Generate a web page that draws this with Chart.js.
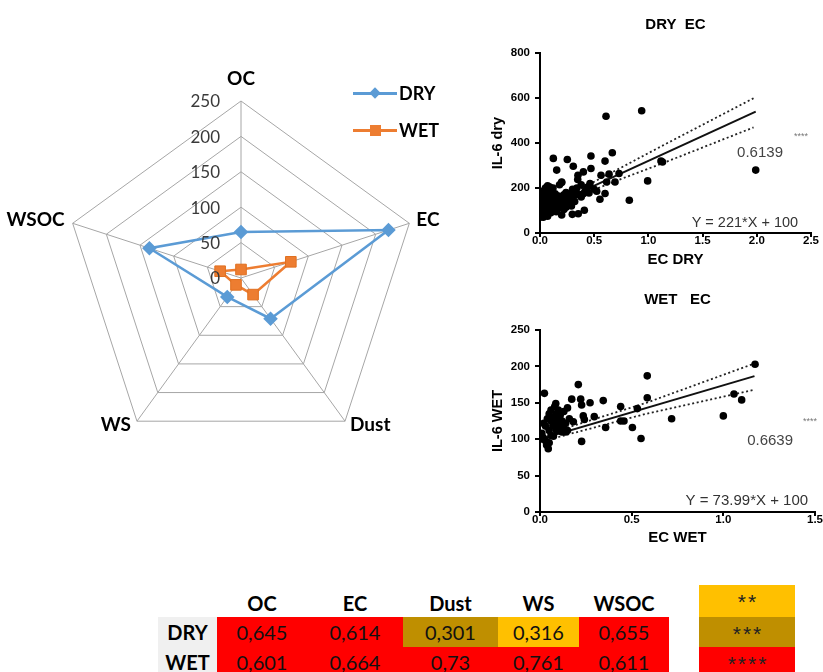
<!DOCTYPE html>
<html>
<head>
<meta charset="utf-8">
<script src="https://cdn.jsdelivr.net/npm/chart.js@4.4.1/dist/chart.umd.min.js"></script>
<style>
html,body{margin:0;padding:0;background:#fff;}
#page{position:relative;width:823px;height:672px;overflow:hidden;background:#fff;}
.abs{position:absolute;}
canvas{display:block;}
.cell{position:absolute;display:flex;align-items:center;justify-content:center;font-family:Lato,'Noto Sans',sans-serif;color:#111;box-sizing:border-box;}
.hdr{font-weight:bold;font-size:20px;color:#000;}
.val{font-size:20px;}
.lbl{font-weight:bold;font-size:20px;background:#f0f0f0;color:#000;}
.star{font-family:'Liberation Sans',Arial,sans-serif;font-size:21px;letter-spacing:2px;align-items:flex-start;padding-top:5px;padding-left:2px;color:#222;}
.legtxt{position:absolute;font:bold 18px Lato,sans-serif;line-height:22px;color:#000;}
</style>
</head>
<body>
<div id="page">
  <div class="abs" style="left:0;top:40px;"><canvas id="radar" width="480" height="440"></canvas></div>
  <div class="abs" style="left:470px;top:0;"><canvas id="dry" width="361" height="280"></canvas></div>
  <div class="abs" style="left:470px;top:280px;"><canvas id="wet" width="365" height="280"></canvas></div>

  <!-- radar legend -->
  <div class="abs" style="left:353px;top:91.5px;width:44px;height:3px;background:#5b9bd5"></div>
  <div class="abs" style="left:371px;top:89px;width:8px;height:8px;background:#5b9bd5;transform:rotate(45deg)"></div>
  <div class="legtxt" style="left:399px;top:82px">DRY</div>
  <div class="abs" style="left:353px;top:128.5px;width:44px;height:3px;background:#ed7d31"></div>
  <div class="abs" style="left:369.5px;top:124.5px;width:11px;height:11px;background:#ed7d31"></div>
  <div class="legtxt" style="left:399px;top:119px">WET</div>

  <div id="table"></div>
</div>

<script>
// ---------------- DATA ----------------
const radarAxes = ['OC', 'EC', 'Dust', 'WS', 'WSOC'];
const radarDry = [65, 219, 71, 33, 136];
const radarWet = [12, 74, 29, 12, 31];
const radarTicks = [0, 50, 100, 150, 200, 250];

const dryPoints = [
  [0.01,95],[0.01,120],[0.02,150],[0.02,175],[0.02,105],[0.03,70],[0.03,135],[0.03,160],[0.04,190],[0.04,110],
  [0.04,85],[0.05,145],[0.05,200],[0.05,125],[0.06,95],[0.06,170],[0.06,155],[0.07,115],[0.07,210],[0.07,75],
  [0.08,140],[0.08,180],[0.08,100],[0.09,165],[0.09,125],[0.09,205],[0.10,150],[0.10,110],[0.10,90],[0.11,185],
  [0.11,135],[0.12,120],[0.12,160],[0.12,200],[0.13,145],[0.13,100],[0.14,175],[0.14,130],[0.15,115],[0.15,95],
  [0.16,150],[0.16,125],[0.17,165],[0.17,110],[0.18,140],[0.18,215],[0.19,120],[0.20,155],[0.20,225],[0.20,80],
  [0.21,130],[0.22,170],[0.22,105],[0.23,145],[0.24,115],[0.24,180],[0.25,160],[0.26,130],[0.27,175],[0.28,150],
  [0.29,120],[0.30,195],[0.31,165],[0.32,140],[0.33,185],[0.34,200],[0.36,170],[0.38,160],[0.40,175],[0.42,190],
  [0.38,215],[0.44,205],[0.50,195],
  [0.123,332],[0.252,327],[0.47,343],[0.667,357],[0.154,280],[0.307,297],[0.60,320],[0.40,272],[0.35,257],[0.348,238],
  [0.47,287],[0.563,257],[0.637,262],[0.729,265],[0.692,227],[0.615,227],[0.461,220],[0.2,227],[0.523,186],[0.6,176],
  [0.452,178],[0.553,150],[0.824,146],[0.993,232],[1.116,320],[1.13,316],[0.609,520],[0.938,544],[1.99,280],
  [0.298,83],[0.353,86],[0.409,101],[0.015,71]
];
const dryFit = [[0, 100], [1.99, 540]];
const dryUpper = [[0.3,178],[0.74,289],[1.15,394],[1.97,600]];
const dryLower = [[0.3,154],[0.74,239],[1.15,314],[1.97,470]];
const dryXTicks = [0, 0.5, 1.0, 1.5, 2.0, 2.5];
const dryYTicks = [0, 200, 400, 600, 800];

const wetPoints = [
  [0.024,163],[0.209,175],[0.585,187],[0.585,157],[1.173,203],[0.086,149],[0.173,155],[0.222,155],[0.273,150],[0.345,153],
  [0.227,147],[0.44,145],[0.531,142],[0.236,132],[0.242,127],[0.296,131],[0.182,124],[0.358,116],[0.44,125],[0.458,125],
  [0.504,116],[0.551,101],[0.227,97],[0.718,128],[1.0,132],[1.058,162],[1.1,154],[0.018,102],[0.0,100],[0.045,87],
  [0.036,92],[0.073,104],[0.12,110],
  [0.02,122],[0.03,118],[0.04,128],[0.05,135],[0.05,112],[0.06,140],[0.06,125],[0.07,130],[0.07,118],[0.08,145],
  [0.08,123],[0.09,135],[0.09,112],[0.10,140],[0.10,128],[0.11,120],[0.11,133],[0.12,125],[0.13,138],[0.13,115],
  [0.14,122],[0.15,143],[0.15,112],[0.16,128],[0.01,108],[0.03,98],[0.05,95],[0.06,105],[0.10,115],[0.14,110]
];
const wetFit = [[0, 100], [1.17, 186.6]];
const wetUpper = [[0.1,112],[0.58,150],[1.17,204]];
const wetLower = [[0.1,103],[0.58,135],[1.17,168]];
const wetXTicks = [0, 0.5, 1.0, 1.5];
const wetYTicks = [0, 50, 100, 150, 200, 250];

const tableCols = ['OC', 'EC', 'Dust', 'WS', 'WSOC'];
const tableRows = ['DRY', 'WET'];
const dryR = ['0,645', '0,614', '0,301', '0,316', '0,655'];
const wetR = ['0,601', '0,664', '0,73', '0,761', '0,611'];
const drySig = ['****', '****', '***', '**', '****'];
const wetSig = ['****', '****', '****', '****', '****'];
const sigLevels = ['**', '***', '****'];

// ---------------- STYLE ----------------
const sigColor = {'**': '#ffc000', '***': '#bf8f00', '****': '#ff0000'};
Chart.defaults.font.family = "'Liberation Sans', Arial, sans-serif";
Chart.defaults.color = '#000';

// ---------------- RADAR ----------------
const radarLabels = {
  id: 'radarLabels',
  afterDraw(chart) {
    const r = chart.scales.r, ctx = chart.ctx;
    ctx.save();
    ctx.font = '17px Lato';
    ctx.fillStyle = '#3a3a3a';
    ctx.textAlign = 'right';
    ctx.textBaseline = 'middle';
    r.ticks.forEach(t => {
      const p = r.getPointPositionForValue(0, t.value);
      ctx.fillText(String(t.value), p.x - 21, p.y + 1);
    });
    ctx.font = 'bold 19px Lato';
    ctx.fillStyle = '#000';
    chart.data.labels.forEach((lab, i) => {
      const p = r.getPointPosition(i, r.drawingArea);
      const dx = p.x - r.xCenter, dy = p.y - r.yCenter;
      let x = p.x, y = p.y;
      if (Math.abs(dx) < 1) { ctx.textAlign = 'center'; y -= 22; }
      else if (dx > 0) { ctx.textAlign = 'left'; x += dy < 0 ? 7 : 5; y += dy < 0 ? -3 : 4; }
      else { ctx.textAlign = 'right'; x -= dy < 0 ? 8 : 6; y += dy < 0 ? -3 : 4; }
      ctx.fillText(lab, x, y);
    });
    ctx.restore();
  }
};

new Chart(document.getElementById('radar'), {
  type: 'radar',
  data: {
    labels: radarAxes,
    datasets: [
      {label: 'DRY', data: radarDry, borderColor: '#5b9bd5', backgroundColor: '#5b9bd5', borderWidth: 2.5,
       pointStyle: 'rectRot', pointRadius: 5.5, pointBackgroundColor: '#5b9bd5', pointBorderColor: '#5b9bd5', fill: false},
      {label: 'WET', data: radarWet, borderColor: '#ed7d31', backgroundColor: '#ed7d31', borderWidth: 2.5,
       pointStyle: 'rect', pointRadius: 7.5, pointBackgroundColor: '#ed7d31', pointBorderColor: '#e07020', pointBorderWidth: 1, fill: false}
    ]
  },
  options: {
    responsive: false, animation: false,
    layout: {padding: {left: 64, top: 61, right: 62, bottom: 25}},
    plugins: {legend: {display: false}, tooltip: {enabled: false}},
    scales: {
      r: {
        min: radarTicks[0], max: radarTicks[radarTicks.length - 1],
        ticks: {stepSize: radarTicks[1] - radarTicks[0], display: false},
        grid: {color: '#a6a6a6', lineWidth: 1},
        angleLines: {color: '#a6a6a6', lineWidth: 1},
        pointLabels: {display: false}
      }
    }
  },
  plugins: [radarLabels]
});

// ---------------- SCATTERS ----------------
const annot = {
  id: 'annot',
  afterDatasetsDraw(chart, args, opts) {
    const ctx = chart.ctx, xs = chart.scales.x, ys = chart.scales.y;
    (opts.items || []).forEach(it => {
      ctx.save();
      ctx.font = it.font; ctx.fillStyle = it.color;
      ctx.textAlign = 'center'; ctx.textBaseline = 'middle';
      ctx.fillText(it.text, xs.getPixelForValue(it.x), ys.getPixelForValue(it.y));
      ctx.restore();
    });
  }
};

const toXY = arr => arr.map(p => ({x: p[0], y: p[1]}));

function makeScatter(id, c) {
  new Chart(document.getElementById(id), {
    type: 'scatter',
    data: {datasets: [
      {data: toXY(c.points), pointRadius: 3.8, pointBackgroundColor: '#000', pointBorderWidth: 0, showLine: false},
      {data: toXY(c.fit), showLine: true, borderColor: '#111', borderWidth: 2, pointRadius: 0},
      {data: toXY(c.upper), showLine: true, borderColor: '#222', borderWidth: 1.8, borderDash: [2, 2.6], pointRadius: 0},
      {data: toXY(c.lower), showLine: true, borderColor: '#222', borderWidth: 1.8, borderDash: [2, 2.6], pointRadius: 0}
    ]},
    options: {
      responsive: false, animation: false,
      layout: {padding: {left: 0, right: 20, top: 0, bottom: 0}},
      plugins: {
        legend: {display: false}, tooltip: {enabled: false},
        title: {display: true, text: c.title, fullSize: false, color: '#000',
                font: {size: 15, weight: 'bold'}, padding: {top: c.titleTop, bottom: c.titleBottom}},
        annot: {items: c.annots}
      },
      scales: {
        x: {
          type: 'linear', min: c.xTicks[0], max: c.xTicks[c.xTicks.length - 1],
          ticks: {stepSize: c.xTicks[1] - c.xTicks[0], callback: v => Number(v).toFixed(1),
                  font: {size: 11.5, weight: 'bold'}, color: '#000', padding: -3, maxRotation: 0, autoSkip: false},
          grid: {drawOnChartArea: false, drawTicks: true, tickLength: 4, color: '#000', lineWidth: 2},
          border: {color: '#000', width: 2},
          title: {display: true, text: c.xTitle, color: '#000', font: {size: 15, weight: 'bold'},
                  padding: {top: 0, bottom: c.xTitlePad}},
          afterFit(s) { s.height = c.xAxisH; }
        },
        y: {
          type: 'linear', min: c.yTicks[0], max: c.yTicks[c.yTicks.length - 1],
          ticks: {stepSize: c.yTicks[1] - c.yTicks[0], font: {size: 11.5, weight: 'bold'}, color: '#000', padding: 5},
          grid: {drawOnChartArea: false, drawTicks: true, tickLength: 5, color: '#000', lineWidth: 2},
          border: {color: '#000', width: 2},
          title: {display: true, text: c.yTitle, color: '#000', font: {size: 14.5, weight: 'bold'},
                  padding: {top: 19.5, bottom: 0}},
          afterFit(s) { s.width = 70; }
        }
      }
    },
    plugins: [annot]
  });
}

makeScatter('dry', {
  points: dryPoints, fit: dryFit, upper: dryUpper, lower: dryLower,
  xTicks: dryXTicks, yTicks: dryYTicks,
  title: 'DRY  EC', titleTop: 16, titleBottom: 19.3,
  xTitle: 'EC DRY', xTitlePad: 11, xAxisH: 47, yTitle: 'IL-6 dry',
  annots: [
    {text: '****', x: 2.408, y: 431, font: '9px "Liberation Sans"', color: '#777'},
    {text: '0.6139', x: 2.03, y: 355, font: '15px "Liberation Sans"', color: '#444'},
    {text: 'Y = 221*X + 100', x: 1.89, y: 45, font: '14.5px "Liberation Sans"', color: '#333'}
  ]
});

makeScatter('wet', {
  points: wetPoints, fit: wetFit, upper: wetUpper, lower: wetLower,
  xTicks: wetXTicks, yTicks: wetYTicks,
  title: 'WET   EC', titleTop: 11, titleBottom: 21,
  xTitle: 'EC WET', xTitlePad: 12.7, xAxisH: 48, yTitle: 'IL-6 WET',
  annots: [
    {text: '****', x: 1.473, y: 124, font: '9px "Liberation Sans"', color: '#777'},
    {text: '0.6639', x: 1.255, y: 97.7, font: '15px "Liberation Sans"', color: '#444'},
    {text: 'Y = 73.99*X + 100', x: 1.128, y: 15, font: '15px "Liberation Sans"', color: '#333'}
  ]
});

// ---------------- TABLE ----------------
(function buildTable() {
  const page = document.getElementById('table');
  const colEdges = [158, 217, 307, 403, 498, 579, 669];
  const rowEdges = [588, 617, 647, 677];
  const add = (cls, txt, l, t, w, h, bg) => {
    const d = document.createElement('div');
    d.className = 'cell ' + cls;
    d.textContent = txt;
    d.style.left = l + 'px'; d.style.top = t + 'px';
    d.style.width = w + 'px'; d.style.height = h + 'px';
    if (bg) d.style.background = bg;
    page.appendChild(d);
  };
  tableCols.forEach((c, i) => add('hdr', c, colEdges[i + 1], rowEdges[0], colEdges[i + 2] - colEdges[i + 1], rowEdges[1] - rowEdges[0]));
  const rowsVals = [dryR, wetR], rowsSig = [drySig, wetSig];
  tableRows.forEach((r, j) => {
    const t = rowEdges[j + 1], h = rowEdges[j + 2] - rowEdges[j + 1];
    add('lbl', r, colEdges[0], t, colEdges[1] - colEdges[0], h);
    rowsVals[j].forEach((v, i) => add('val', v, colEdges[i + 1], t, colEdges[i + 2] - colEdges[i + 1], h, sigColor[rowsSig[j][i]]));
  });
  const legTops = [585, 617, 647, 677];
  sigLevels.forEach((s, k) => add('star', s, 699, legTops[k], 96, legTops[k + 1] - legTops[k], sigColor[s]));
})();
</script>
</body>
</html>
